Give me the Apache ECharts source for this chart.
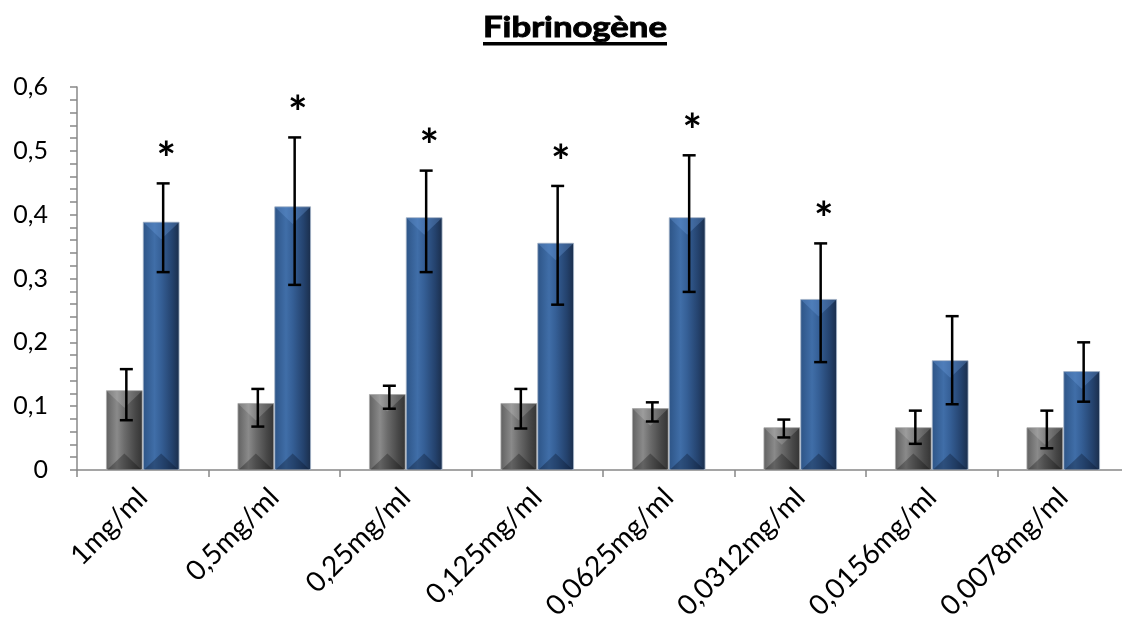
<!DOCTYPE html>
<html>
<head>
<meta charset="utf-8">
<script src="https://cdn.jsdelivr.net/npm/echarts@6/dist/echarts.min.js"></script>
<style>
html,body{margin:0;padding:0;background:#fff;}
#chart{width:1122px;height:620px;}
</style>
</head>
<body>
<div id="chart"></div>
<script>
const titleText = 'Fibrinogène';
const categories = ['1mg/ml','0,5mg/ml','0,25mg/ml','0,125mg/ml','0,0625mg/ml','0,0312mg/ml','0,0156mg/ml','0,0078mg/ml'];
const grayValues   = [0.125, 0.105, 0.119, 0.105, 0.097, 0.067, 0.067, 0.067];
const grayErrHigh  = [0.158, 0.127, 0.132, 0.127, 0.106, 0.079, 0.093, 0.093];
const grayErrLow   = [0.078, 0.068, 0.096, 0.065, 0.076, 0.051, 0.041, 0.034];
const blueValues   = [0.389, 0.413, 0.396, 0.356, 0.396, 0.268, 0.172, 0.155];
const blueErrHigh  = [0.449, 0.521, 0.469, 0.445, 0.493, 0.355, 0.241, 0.200];
const blueErrLow   = [0.310, 0.290, 0.310, 0.259, 0.279, 0.169, 0.103, 0.107];
const significant  = [true, true, true, true, true, true, false, false];
const yTickValues  = [0, 0.1, 0.2, 0.3, 0.4, 0.5, 0.6];
const yTickLabels  = ['0', '0,1', '0,2', '0,3', '0,4', '0,5', '0,6'];

const FONT = 'Lato';
const BAR_FRAC = 0.28;

const grayGrad = {type:'linear',x:0,y:0,x2:1,y2:0,colorStops:[
  {offset:0,color:'#606060'},{offset:0.3,color:'#8a8a8a'},{offset:0.5,color:'#6c6c6c'},
  {offset:0.8,color:'#474747'},{offset:1,color:'#333333'}]};
const blueGrad = {type:'linear',x:0,y:0,x2:1,y2:0,colorStops:[
  {offset:0,color:'#2d5486'},{offset:0.32,color:'#406ea8'},{offset:0.5,color:'#355f96'},
  {offset:0.8,color:'#24426d'},{offset:1,color:'#1a2d4a'}]};

const bevelData = [];
categories.forEach((c,i)=>{ bevelData.push([i, grayValues[i], 0]); bevelData.push([i, blueValues[i], 1]); });
const errData = [];
categories.forEach((c,i)=>{
  errData.push([i, grayErrLow[i], grayErrHigh[i], 0, 0]);
  errData.push([i, blueErrLow[i], blueErrHigh[i], 1, significant[i] ? 1 : 0]);
});

function barCenterX(api, idx, s){
  const c = api.coord([idx, 0]);
  const band = api.size([1, 0])[0];
  const bw = band * BAR_FRAC;
  return { x: c[0] + (s === 0 ? -bw/2 : bw/2), bw: bw, y0: c[1] };
}

// title sizing
const TITLE_SIZE = 28;
const mctx = document.createElement('canvas').getContext('2d');
mctx.font = 'bold ' + TITLE_SIZE + 'px ' + FONT;
const titleW = mctx.measureText(titleText).width;
const TITLE_TARGET_W = 184;
const titleScale = TITLE_TARGET_W / titleW;

const chart = echarts.init(document.getElementById('chart'), null, {renderer:'canvas'});
chart.setOption({
  animation:false,
  backgroundColor:'#ffffff',
  grid:{left:77, top:87, bottom:150, width:1052, containLabel:false, outerBoundsMode:'none'},
  xAxis:{
    type:'category', data:categories,
    axisLine:{lineStyle:{color:'#888888', width:1.5}},
    axisTick:{show:true, length:7, lineStyle:{color:'#888888', width:1.5}},
    axisLabel:{rotate:45, fontFamily:FONT, fontSize:28, color:'#000', margin:23, interval:0}
  },
  yAxis:{
    type:'value', min:0, max:0.6, interval:0.1,
    splitLine:{show:false},
    axisLine:{show:true, lineStyle:{color:'#888888', width:1.5}},
    axisTick:{show:true, length:7, lineStyle:{color:'#888888', width:1.5}},
    minorTick:{show:true, splitNumber:5, length:7, lineStyle:{color:'#888888', width:1.5}},
    axisLabel:{fontFamily:FONT, fontSize:25, color:'#000', margin:29,
      formatter:function(v){ const k = yTickValues.findIndex(t=>Math.abs(t-v)<1e-9); return k>=0 ? yTickLabels[k] : ''; }}
  },
  series:[
    {type:'bar', name:'control', data:grayValues, barWidth:(BAR_FRAC*100)+'%', barGap:'0%',
      itemStyle:{color:grayGrad, borderColor:'rgba(170,170,170,0.8)', borderWidth:1}},
    {type:'bar', name:'fibrinogen', data:blueValues, barWidth:(BAR_FRAC*100)+'%', barGap:'0%',
      itemStyle:{color:blueGrad, borderColor:'rgba(165,180,200,0.8)', borderWidth:1}},
    {type:'custom', name:'bevel', data:bevelData, silent:true, z:3,
      renderItem:function(params, api){
        const idx = api.value(0), v = api.value(1), s = api.value(2);
        const b = barCenterX(api, idx, s);
        const top = api.coord([idx, v])[1];
        const h = b.y0 - top;
        const x0 = b.x - b.bw/2 + 1, x1 = b.x + b.bw/2 - 1;
        const d = Math.min(b.bw*0.45, h/2);
        const topFill = s === 0 ? 'rgba(255,255,255,0.16)' : 'rgba(110,160,225,0.32)';
        const botFill = s === 0 ? 'rgba(0,0,0,0.28)' : 'rgba(5,15,35,0.32)';
        return {type:'group', children:[
          {type:'polygon', shape:{points:[[x0,top+1],[x1,top+1],[b.x,top+1+d]]}, style:{fill:topFill}},
          {type:'polygon', shape:{points:[[x0,b.y0],[x1,b.y0],[b.x,b.y0-d]]}, style:{fill:botFill}}
        ]};
      }},
    {type:'custom', name:'errors', data:errData, silent:true, z:5,
      renderItem:function(params, api){
        const idx = api.value(0), lo = api.value(1), hi = api.value(2), s = api.value(3), sig = api.value(4);
        const b = barCenterX(api, idx, s);
        const x = b.x + 2;
        const yl = api.coord([idx, lo])[1], yh = api.coord([idx, hi])[1];
        const cap = 6.5;
        const st = {stroke:'#000', lineWidth:2.5};
        const ch = [
          {type:'line', shape:{x1:x, y1:yl, x2:x, y2:yh}, style:st},
          {type:'line', shape:{x1:x-cap, y1:yl, x2:x+cap, y2:yl}, style:st},
          {type:'line', shape:{x1:x-cap, y1:yh, x2:x+cap, y2:yh}, style:st}
        ];
        if (sig) {
          ch.push({type:'text', style:{text:'*', x:x+3, y:yh-23, align:'center', verticalAlign:'middle',
            font:'bold 46px ' + FONT, fill:'#000'}});
        }
        return {type:'group', children:ch};
      }}
  ],
  graphic:[
    {type:'text', x:575, y:28, scaleX:titleScale, silent:true,
      style:{text:titleText, x:0, y:0, align:'center', verticalAlign:'middle',
        font:'bold ' + TITLE_SIZE + 'px ' + FONT, fill:'#000', stroke:'#000', lineWidth:0.9}},
    {type:'rect', shape:{x:575 - TITLE_TARGET_W/2, y:42, width:TITLE_TARGET_W, height:3.5}, style:{fill:'#000'}, silent:true}
  ]
});
</script>
</body>
</html>
